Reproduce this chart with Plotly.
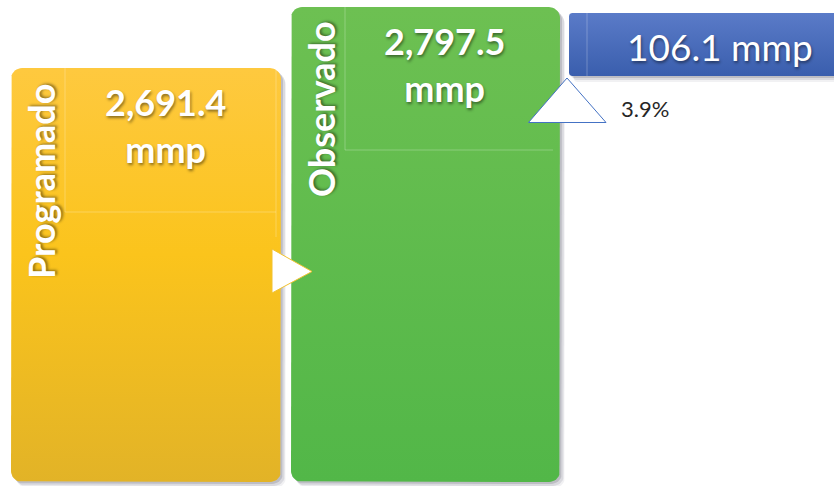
import numpy as np
import plotly.graph_objects as go

# ---- data ----
categories = ["Programado", "Observado"]
values = [2691.4, 2797.5]
unit = "mmp"
difference = [106.1]
difference_pct = [3.9]

W, H = 834, 486

# ---- layout geometry (pixels) ----
boxes = [  # x0, y0, x1, y1, radius, colorscale (bottom -> top)
    (11, 68, 281, 482, 11, [[0, "#E2B327"], [0.55, "#FBC41C"], [1, "#FEC93F"]]),
    (291, 7, 560, 482, 11, [[0, "#52B748"], [1, "#6DC052"]]),
]
diff_box = (569, 13, 840, 76, 3, [[0, "#3A5EAD"], [1, "#5A7BC8"]])


def rounded(x0, y0, x1, y1, r, n=10):
    xs, ys = [], []
    corners = [
        (x1 - r, y0 + r, -np.pi / 2, 0),
        (x1 - r, y1 - r, 0, np.pi / 2),
        (x0 + r, y1 - r, np.pi / 2, np.pi),
        (x0 + r, y0 + r, np.pi, 1.5 * np.pi),
    ]
    for cx, cy, a0, a1 in corners:
        t = np.linspace(a0, a1, n)
        xs += list(cx + r * np.cos(t))
        ys += list(cy + r * np.sin(t))
    xs.append(xs[0])
    ys.append(ys[0])
    return xs, ys


fig = go.Figure()


def add_box(b, shadow=True):
    x0, y0, x1, y1, r, cs = b
    if shadow:
        for dx, dy, a in [(5, 6, 0.07), (4, 4, 0.12), (2, 2, 0.18)]:
            xs, ys = rounded(x0 + dx, y0 + dy, x1 + dx, y1 + dy, r)
            fig.add_trace(go.Scatter(x=xs, y=ys, mode="lines", fill="toself",
                                     line=dict(width=0),
                                     fillcolor=f"rgba(60,60,80,{a})",
                                     hoverinfo="skip", showlegend=False))
    xs, ys = rounded(x0, y0, x1, y1, r)
    fig.add_trace(go.Scatter(
        x=xs, y=ys, mode="lines", fill="toself", line=dict(width=0),
        fillgradient=dict(type="vertical", colorscale=cs),
        hoverinfo="skip", showlegend=False))


for b in boxes:
    add_box(b)
add_box(diff_box)

# faint overlay lines
faint = "rgba(255,255,255,0.25)"
seg = [
    ([65, 65], [68, 212]), ([65, 276], [212, 212]), ([276, 276], [68, 237]),
    ([345, 345], [7, 150]), ([345, 553], [150, 150]),
    ([587, 587], [13, 76]),
]
for xs, ys in seg:
    fig.add_trace(go.Scatter(x=xs, y=ys, mode="lines",
                             line=dict(color=faint, width=1),
                             hoverinfo="skip", showlegend=False))

# arrow between boxes
fig.add_trace(go.Scatter(x=[272, 272, 312, 272], y=[249, 293, 271.5, 249],
                         mode="lines", fill="toself", fillcolor="white",
                         line=dict(color="#F2C230", width=1),
                         hoverinfo="skip", showlegend=False))
# up triangle
fig.add_trace(go.Scatter(x=[528.5, 606, 567, 528.5], y=[122.5, 122.5, 78, 122.5],
                         mode="lines", fill="toself", fillcolor="white",
                         line=dict(color="#4472C4", width=1),
                         hoverinfo="skip", showlegend=False))

shadow = "1px 2px 3px rgba(0,0,0,0.45)"
ann = []
label_pos = [(41, 182), (321, 109)]
value_pos = [(165, 125), (444, 64)]
for cat, v, (lx, ly), (vx, vy) in zip(categories, values, label_pos, value_pos):
    ann.append(dict(x=lx, y=ly, text=f"<b>{cat}</b>", textangle=-90,
                    showarrow=False, xanchor="center", yanchor="middle",
                    font=dict(family="Lato", size=36, color="white", shadow=shadow)))
    ann.append(dict(x=vx, y=vy, text=f"<b>{v:,.1f}<br>{unit}</b>",
                    showarrow=False, xanchor="center", yanchor="middle",
                    font=dict(family="Lato", size=36, color="white", shadow=shadow)))

ann.append(dict(x=720, y=46, text=f"{difference[0]:,.1f} {unit}", showarrow=False,
                xanchor="center", yanchor="middle",
                font=dict(family="Lato", size=37, color="white", shadow=shadow)))
ann.append(dict(x=619, y=108, text=f"{difference_pct[0]:.1f}%", showarrow=False,
                xanchor="left", yanchor="middle",
                font=dict(family="Lato", size=22, color="#262626")))

fig.update_layout(
    width=W, height=H, margin=dict(l=0, r=0, t=0, b=0),
    paper_bgcolor="white", plot_bgcolor="white",
    xaxis=dict(range=[0, W], visible=False, fixedrange=True),
    yaxis=dict(range=[H, 0], visible=False, fixedrange=True),
    annotations=ann, showlegend=False,
)

fig.write_html("out.html", config={"displayModeBar": False},
               post_script="document.body.style.margin='0';document.body.style.overflow='hidden';")
